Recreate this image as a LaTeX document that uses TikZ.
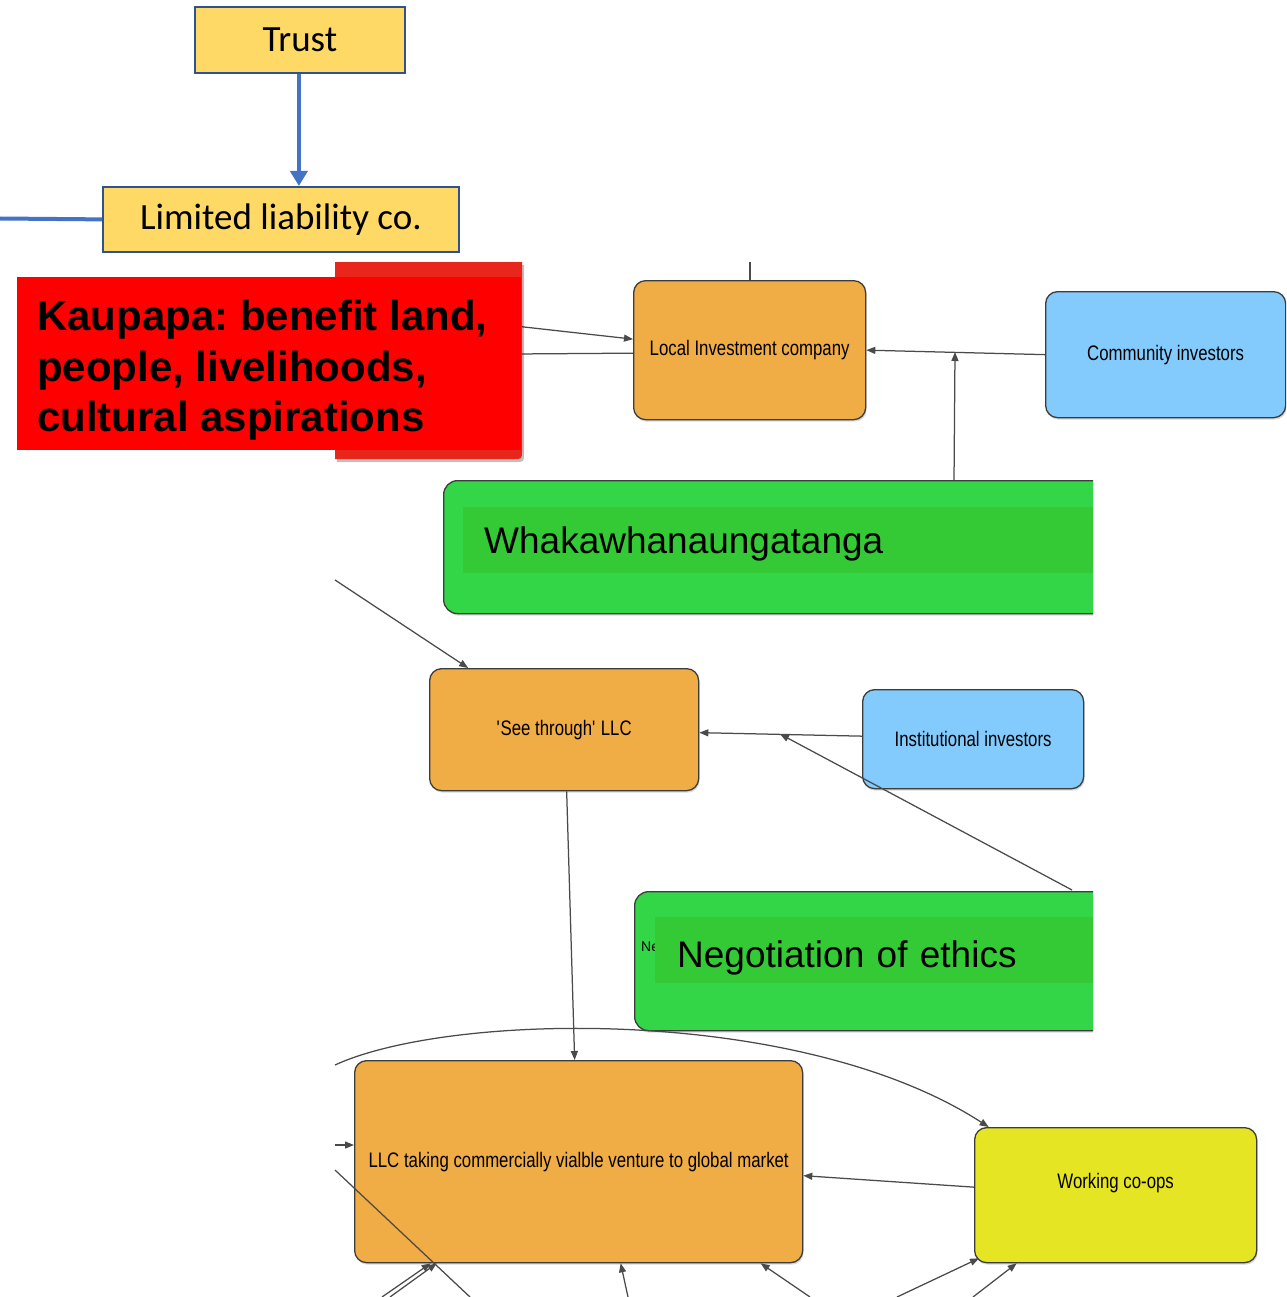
\documentclass[tikz,border=0pt]{standalone}
\usepackage{fontspec}
\setmainfont{Liberation Sans}
\newfontfamily\calfont{Carlito}
\newfontfamily\narfont[FakeStretch=0.8]{Liberation Sans}
\usetikzlibrary{arrows.meta,shadows}
\definecolor{yel}{HTML}{FFD966}
\definecolor{oblue}{HTML}{2F528F}
\definecolor{ablue}{HTML}{4472C4}
\definecolor{orng}{HTML}{F0AC45}
\definecolor{skyb}{HTML}{84CBFD}
\definecolor{grn}{HTML}{33D647}
\definecolor{grnband}{HTML}{33CA35}
\definecolor{lime}{HTML}{E6E523}
\definecolor{redb}{HTML}{FF0000}
\definecolor{redback}{HTML}{E8261C}
\definecolor{edge}{HTML}{3C3C3C}
\definecolor{conn}{HTML}{4A4A4A}
\begin{document}
\begin{tikzpicture}[x=1pt,y=-1pt,
  officebox/.style={draw=oblue, line width=1.8pt, fill=yel, inner sep=0pt, anchor=north west, font=\calfont\fontsize{37}{44}\selectfont},
  flowbox/.style={draw=edge, line width=1.3pt, rounded corners=12pt, inner sep=0pt, anchor=north west,
    font=\narfont\fontsize{21}{25}\selectfont,
    drop shadow={shadow xshift=1pt, shadow yshift=-2pt, opacity=0.3}},
  orangebox/.style={flowbox, fill=orng},
  bluebox/.style={flowbox, fill=skyb},
  limebox/.style={flowbox, fill=lime},
  greenbox/.style={draw=edge, line width=1.3pt, rounded corners=14pt, fill=grn, inner sep=0pt, anchor=north west,
    drop shadow={shadow xshift=1pt, shadow yshift=-2pt, opacity=0.3}},
  bandbox/.style={fill=grnband, inner ysep=0pt, anchor=north west, align=left, font=\fontsize{37}{44}\selectfont},
  line/.style={draw=conn, line width=1.25pt},
  arr/.style={line, -{Triangle[length=9pt,width=7pt]}},
  bluearr/.style={draw=ablue, line width=4pt, -{Triangle[length=15pt,width=17pt]}},
  blueline/.style={draw=ablue, line width=4pt}]
\clip (0,0) rectangle (1286,1297);
\fill[white] (0,0) rectangle (1286,1297);

% office boxes
\node[officebox, minimum width=210pt, minimum height=66pt] (trust) at (194,6) {Trust};
\node[officebox, minimum width=356pt, minimum height=65pt] (llc) at (102,186) {Limited liability co.};
\draw[bluearr] ([xshift=-1pt]trust.south) -- ([xshift=-1pt]trust.south |- llc.north);
\coordinate (lleft) at (0,218.5);
\draw[blueline] (llc.west) -- (lleft);

% flow nodes
\node[orangebox, minimum width=232pt, minimum height=139pt] (lic) at (633,280) {Local Investment company};
\node[bluebox, minimum width=240pt, minimum height=126pt] (comm) at (1045,291) {Community investors};
\node[orangebox, minimum width=269pt, minimum height=122pt] (st) at (429,668) {\textquotesingle See through\textquotesingle\ LLC};
\node[bluebox, minimum width=221pt, minimum height=99pt] (inst) at (862,689) {Institutional investors};
\node[orangebox, minimum width=448pt, minimum height=202pt] (llcg) at (354,1060) {LLC taking commercially vialble venture to global market};
\node[limebox, minimum width=282pt, minimum height=135pt, text height=4pt, text depth=17pt] (wc) at (974,1127) {Working co-ops};

% connectors into Local Investment company
\coordinate (r1) at (515,326);
\coordinate (r2) at (515,354);
\draw[arr] (r1) -- ([yshift=11pt]lic.west);
\draw[line] (r2) -- ([yshift=-3pt]lic.west);
\coordinate (lictop) at (750,262);
\draw[line] (lictop) -- (lictop |- lic.north);
\draw[arr] (comm.west) -- (lic.east);
\coordinate (wtop) at (954,481);
\coordinate (junc) at (955,352);
\draw[arr] (wtop) -- (junc);

% red Kaupapa panel
\fill[black, opacity=0.25] (337,265) -- (524,265) -- (524,453) .. controls (524,462) .. (515,462) -- (337,462) -- cycle;
\fill[redback] (335,262) -- (522,262) -- (522,451) .. controls (522,459) .. (514,459) -- (335,459) -- cycle;
\node[fill=redb, minimum width=504pt, minimum height=173pt, inner sep=0pt, anchor=north west] (kaupapa) at (17,277) {};
\node[anchor=north west, inner sep=0pt, align=left, font=\bfseries\fontsize{42}{50.5}\selectfont\frenchspacing] (kaupapatext) at (37,300)
  {Kaupapa: benefit land,\\people, livelihoods,\\cultural aspirations};

% green boxes
\begin{scope}
\clip (0,0) rectangle (1093,1297);
\node[greenbox, minimum width=680pt, minimum height=133pt] (whaka) at (443,480) {};
\node[bandbox, minimum width=650pt, minimum height=66pt, text width=608pt, inner xsep=21pt, text height=30pt, text depth=2.6pt] (whakaband) at (463,507) {Whakawhanaungatanga};
\node[greenbox, minimum width=490pt, minimum height=139pt] (nego) at (634,891) {};
\node[anchor=west, inner sep=0pt, font=\fontsize{14}{16}\selectfont] (negosmall) at (641,947) {Ne};
\node[bandbox, minimum width=460pt, minimum height=66pt, text width=416pt, inner xsep=22pt, text height=36pt, text depth=1.6pt] (negoband) at (655,917) {Negotiation of ethics};
\end{scope}

% connectors around See through LLC
\coordinate (stin) at (335,580);
\draw[arr] (stin) -- ([xshift=-96pt]st.north);
\draw[arr] ([yshift=3pt]inst.west) -- ([yshift=-3pt]st.east);
\coordinate (ntop) at (1072,890);
\coordinate (ijunc) at (780,734);
\draw[arr] (ntop) -- (ijunc);
\draw[arr] ([xshift=2.5pt]st.south) -- ([xshift=-4pt]llcg.north);

% connectors around the bottom
\coordinate (cstart) at (335,1065);
\draw[arr] (cstart) .. controls (450,1012) and (800,1005) .. ([xshift=-127pt]wc.north);
\draw[arr] ([yshift=8pt]wc.west) -- ([yshift=-14pt]llcg.east);
\coordinate (lin) at (335,1145);
\draw[arr] (lin) -- (lin -| llcg.west);
\coordinate (dg1) at (335,1170);
\coordinate (dg2) at (470,1297);
\draw[line] (dg1) -- (dg2);
\coordinate (b1) at (382,1297);
\coordinate (b2) at (390,1297);
\coordinate (b3) at (628,1297);
\coordinate (b4) at (810,1297);
\coordinate (b5) at (897,1297);
\coordinate (b6) at (973,1297);
\draw[arr] (b1) -- ([xshift=-148pt]llcg.south);
\draw[arr] (b2) -- ([xshift=-142pt]llcg.south);
\draw[arr] (b3) -- ([xshift=42pt]llcg.south);
\draw[arr] (b4) -- ([xshift=182pt]llcg.south);
\draw[arr] (b5) -- ([xshift=5pt,yshift=5pt]wc.south west);
\draw[arr] (b6) -- ([xshift=-99pt]wc.south);
\end{tikzpicture}
\end{document}
